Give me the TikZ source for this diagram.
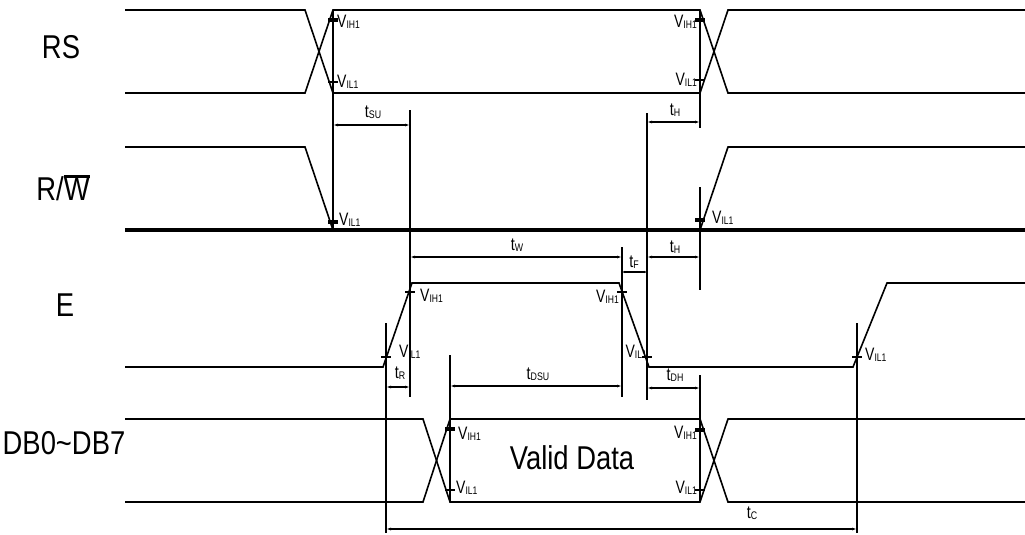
\documentclass[tikz,border=0pt]{standalone}
\usepackage{fontspec}
\setmainfont{Liberation Sans}
\usepackage{graphicx}
\usetikzlibrary{arrows.meta}
\newcommand{\sigfont}[1]{\scalebox{0.83}[1]{\fontsize{33}{33}\selectfont #1}}
\newcommand{\vlab}[1]{\scalebox{0.78}[1]{\fontsize{18}{18}\selectfont V\raisebox{-1pt}{\fontsize{11}{11}\selectfont #1}}}
\newcommand{\tlab}[1]{\scalebox{0.8}[1]{\fontsize{18}{18}\selectfont t\raisebox{-1.5pt}{\fontsize{11}{11}\selectfont #1}}}
\newcommand{\ovlW}{\setbox0\hbox{W}\rlap{\rule[\dimexpr\ht0+0.5pt\relax]{\wd0}{3pt}}\box0}
\begin{document}
\begin{tikzpicture}[x=1pt,y=-1pt,
  sig/.style={line width=1.6pt},
  thk/.style={line width=3.8pt},
  ext/.style={line width=1.2pt},
  dim/.style={line width=1.2pt,{Latex[length=5pt,width=3pt]}-{Latex[length=5pt,width=3pt]}},
  dimsmall/.style={line width=1.2pt,{Latex[length=3pt,width=2.5pt]}-{Latex[length=3pt,width=2.5pt]}},
  blob/.style={line width=4pt},
  tick/.style={line width=1.3pt},
  lab/.style={inner sep=0pt}]
\useasboundingbox (0,0) rectangle (1025,535);
% signal names
\node[lab] (nRS) at (61,47) {\sigfont{RS}};
\node[lab] (nRW) at (63,188) {\sigfont{R/\ovlW}};
\node[lab] (nE) at (65,305) {\sigfont{E}};
\node[lab] (nDB) at (64,443) {\sigfont{DB0\char`\~DB7}};
% RS
\draw[sig] (125,10) -- (305,10) -- (333,93) -- (700,93) -- (728,10) -- (1025,10);
\draw[sig] (125,93) -- (305,93) -- (333,10) -- (700,10) -- (728,93) -- (1025,93);
% R/W
\draw[sig] (125,147) -- (305,147) -- (333,230);
\draw[thk] (125,230) -- (1025,230);
\draw[sig] (700,230) -- (728,147) -- (1025,147);
% E
\draw[sig] (125,367) -- (383,367) -- (412,283) -- (619,283) -- (649,367) -- (853,367) -- (887,283) -- (1025,283);
% DB
\draw[sig] (125,419) -- (423,419) -- (450,502) -- (700,502) -- (728,419) -- (1025,419);
\draw[sig] (125,502) -- (423,502) -- (450,419) -- (700,419) -- (728,502) -- (1025,502);
\node[lab] (valid) at (572,458) {\sigfont{Valid Data}};
% extension lines
\draw[ext] (333,10) -- (333,230);
\draw[ext] (410,110) -- (410,397);
\draw[ext] (700,10) -- (700,128);
\draw[ext] (647,113) -- (647,400);
\draw[ext] (700,187) -- (700,290);
\draw[ext] (622,247) -- (622,397);
\draw[ext] (386,323) -- (386,533);
\draw[ext] (450,355) -- (450,502);
\draw[ext] (700,375) -- (700,502);
\draw[ext] (857,323) -- (857,533);
% dimension lines
\draw[dim] (333,125) -- (410,125);
\draw[dim] (647,122) -- (700,122);
\draw[dim] (410,257) -- (622,257);
\draw[dimsmall] (622,272) -- (647,272);
\draw[dim] (647,257) -- (700,257);
\draw[dim] (386,387) -- (410,387);
\draw[dim] (450,386) -- (622,386);
\draw[dim] (647,388) -- (700,388);
\draw[dim] (386,529) -- (857,529);
% markers
\foreach \p in {(333,20),(700,20),(333,222),(700,220),(450,429),(700,430)}
  \draw[blob] \p ++(-5,0) -- ++(10,0);
\foreach \p in {(333,82),(700,80),(410,292),(386,357),(622,292),(647,357),(857,357),(450,490),(700,490)}
  \draw[tick] \p ++(-5,0) -- ++(10,0);
% level labels
\node[lab,anchor=west] (v1) at (337,22) {\vlab{IH1}};
\node[lab,anchor=west] (v2) at (337,82) {\vlab{IL1}};
\node[lab,anchor=east] (v3) at (697,22) {\vlab{IH1}};
\node[lab,anchor=east] (v4) at (697,80) {\vlab{IL1}};
\node[lab,anchor=west] (v5) at (339,220) {\vlab{IL1}};
\node[lab,anchor=west] (v6) at (712,218) {\vlab{IL1}};
\node[lab,anchor=west] (v7) at (420,296) {\vlab{IH1}};
\node[lab,anchor=west] (v8) at (399,352) {\vlab{IL1}};
\node[lab,anchor=east] (v9) at (619,297) {\vlab{IH1}};
\node[lab,anchor=east] (v10) at (647,352) {\vlab{IL1}};
\node[lab,anchor=west] (v11) at (865,355) {\vlab{IL1}};
\node[lab,anchor=west] (v12) at (458,434) {\vlab{IH1}};
\node[lab,anchor=west] (v13) at (456,488) {\vlab{IL1}};
\node[lab,anchor=east] (v14) at (697,433) {\vlab{IH1}};
\node[lab,anchor=east] (v15) at (697,488) {\vlab{IL1}};
% timing labels
\node[lab] (tsu) at (373,112) {\tlab{SU}};
\node[lab] (th1) at (675,110) {\tlab{H}};
\node[lab] (tw) at (517,245) {\tlab{W}};
\node[lab] (tf) at (634,262) {\tlab{F}};
\node[lab] (th2) at (675,247) {\tlab{H}};
\node[lab] (tr) at (400,373) {\tlab{R}};
\node[lab] (tdsu) at (538,374) {\tlab{DSU}};
\node[lab] (tdh) at (675,375) {\tlab{DH}};
\node[lab] (tc) at (752,513) {\tlab{C}};
\end{tikzpicture}
\end{document}
